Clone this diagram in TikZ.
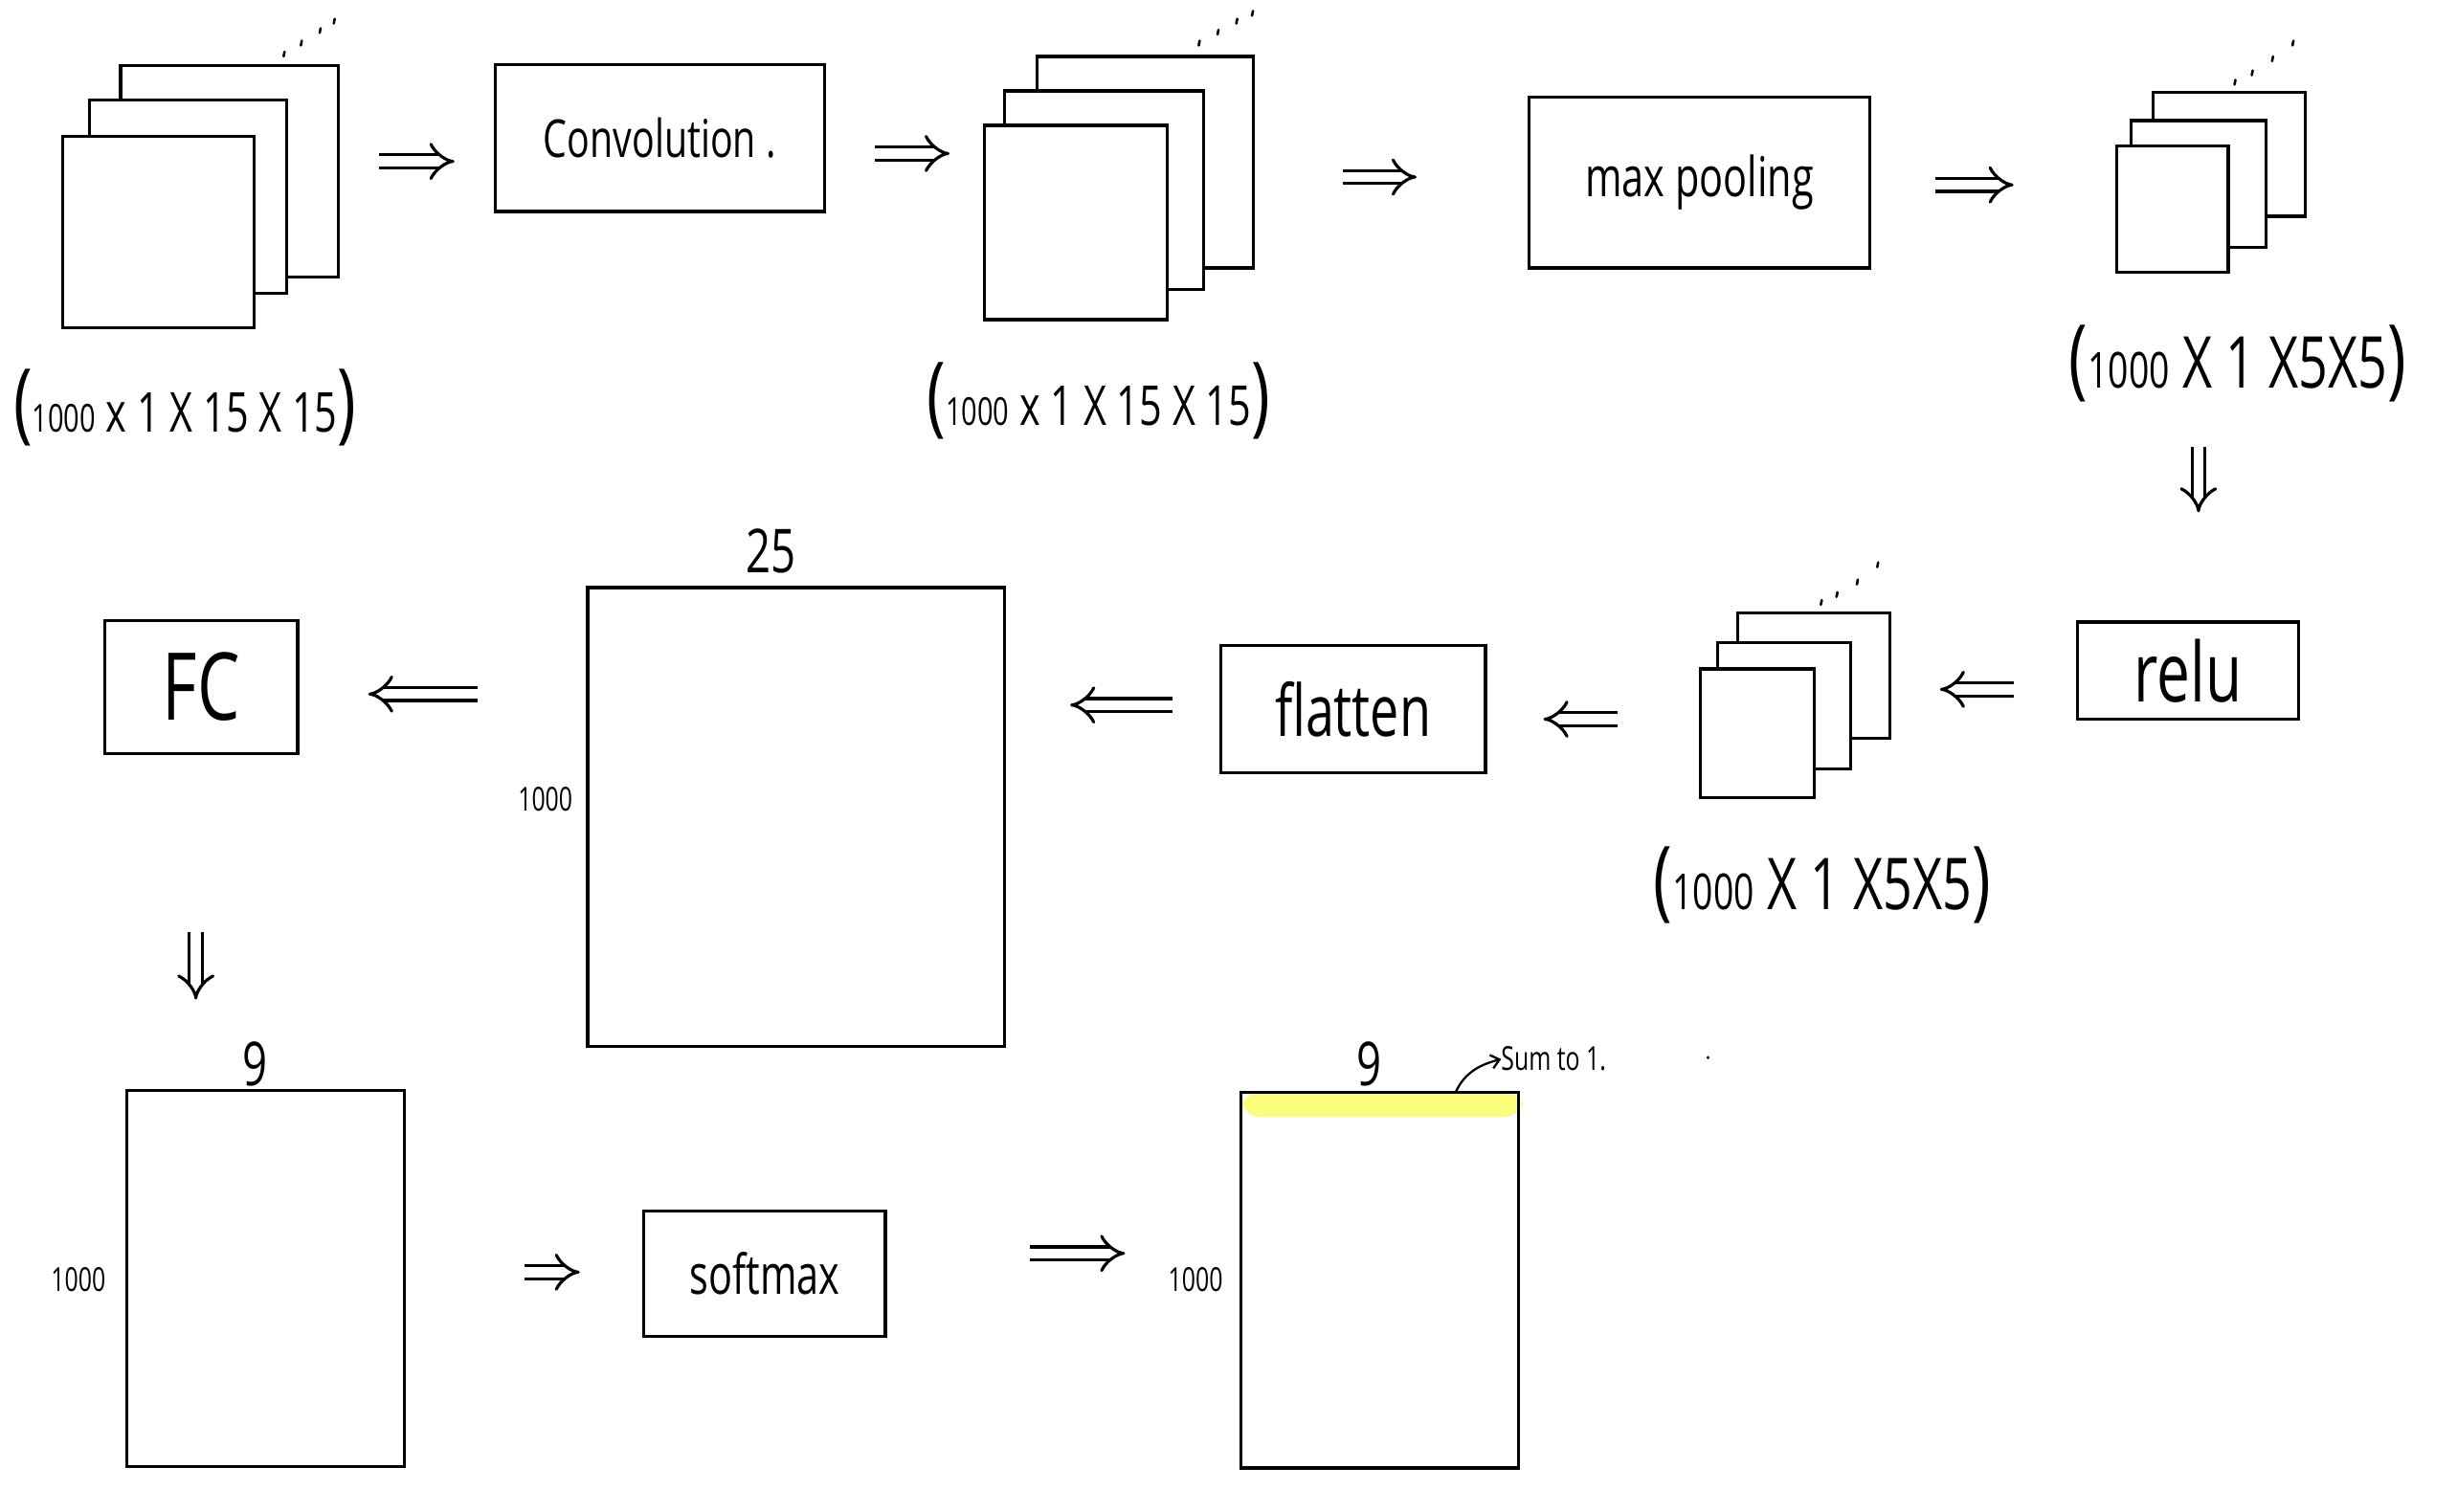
\documentclass[tikz,border=0pt]{standalone}
\usepackage{fontspec}
\setmainfont{Open Sans}[FakeStretch=0.72]
\usetikzlibrary{arrows.meta}
\definecolor{hl}{RGB}{253,253,125}
\tikzset{
  x=0.02cm, y=-0.02cm,
  ln/.style={line width=1.1pt, draw=black},
  sheet/.style={ln, fill=white, rectangle, inner sep=0pt, outer sep=0pt},
  opbox/.style={ln, rectangle, inner sep=0pt, outer sep=0pt},
  matbox/.style={ln, rectangle, inner sep=0pt, outer sep=0pt},
  lbl/.style={inner sep=0pt, outer sep=0pt},
  dbl/.style={double, double distance=3.6pt, line width=1.1pt,
              -{Implies[length=7pt, width=17pt]}},
  tickmk/.style={line width=0.9pt, line cap=round},
}
\newcommand\rectnode[7]{\node[#1, minimum width={(#5-#3)*0.02cm}, minimum height={(#6-#4)*0.02cm}] (#2) at ({(#3+#5)/2},{(#4+#6)/2}) {#7};}
\newcommand\bp[1]{{\fontsize{32}{32}\selectfont #1}}
\newcommand\sm[1]{{\fontsize{14}{14}\selectfont #1}}
\begin{document}
\begin{tikzpicture}
\useasboundingbox (0,0) rectangle (1568,965);
% ---------- row 1 ----------
% stack 1
\rectnode{sheet}{s1a}{77}{42}{216}{177}{}
\rectnode{sheet}{s1b}{57}{64}{183}{187}{}
\rectnode{sheet}{s1c}{40}{87}{162}{209}{}
\foreach \p in {(181,36),(192,29),(204,21),(213,15)} \draw[tickmk] \p -- ++(0.6,-3);
\node[lbl, font=\fontsize{20}{20}\selectfont] (l1) at (118,260) {\bp{(}\sm{1000} x 1 X 15 X 15\bp{)}};
% convolution
\rectnode{opbox}{conv}{316}{41}{526}{135}{\fontsize{19}{19}\selectfont Convolution .}
% stack 2
\rectnode{sheet}{s2a}{662}{36}{800}{171}{}
\rectnode{sheet}{s2b}{641}{58}{768}{185}{}
\rectnode{sheet}{s2c}{628}{80}{745}{204}{}
\foreach \p in {(765,29),(777,22),(789,15),(799,10)} \draw[tickmk] \p -- ++(0.6,-3);
\node[lbl, font=\fontsize{20}{20}\selectfont] (l2) at (701,256) {\bp{(}\sm{1000} x 1 X 15 X 15\bp{)}};
% max pooling
\rectnode{opbox}{pool}{976}{62}{1193}{171}{\fontsize{20}{20}\selectfont max pooling}
% stack 3
\rectnode{sheet}{s3a}{1374}{59}{1471}{138}{}
\rectnode{sheet}{s3b}{1360}{77}{1446}{158}{}
\rectnode{sheet}{s3c}{1351}{93}{1422}{174}{}
\foreach \p in {(1426,54),(1437,48),(1450,39),(1463,29)} \draw[tickmk] \p -- ++(0.6,-3);
\node[lbl, font=\fontsize{26}{26}\selectfont] (l3) at (1428,232) {\bp{(}{\fontsize{18}{18}\selectfont 1000} X 1 X5X5\bp{)}};
% ---------- row 2 ----------
\rectnode{opbox}{relu}{1326}{397}{1467}{459}{\fontsize{30}{30}\selectfont relu}
% stack 4
\rectnode{sheet}{s4a}{1109}{391}{1206}{471}{}
\rectnode{sheet}{s4b}{1096}{410}{1181}{491}{}
\rectnode{sheet}{s4c}{1085}{427}{1158}{509}{}
\foreach \p in {(1162,386),(1172,381),(1185,373),(1198,362)} \draw[tickmk] \p -- ++(0.6,-3);
\node[lbl, font=\fontsize{26}{26}\selectfont] (l4) at (1163,565) {\bp{(}{\fontsize{18}{18}\selectfont 1000} X 1 X5X5\bp{)}};
% flatten
\rectnode{opbox}{flat}{779}{412}{948}{493}{\fontsize{26}{26}\selectfont flatten}
% flattened matrix
\rectnode{matbox}{m25}{375}{375}{641}{668}{}
\node[lbl, font=\fontsize{22}{22}\selectfont] (t25) at (492,352) {25};
\node[lbl, font=\fontsize{12}{12}\selectfont] (t25h) at (348,510) {1000};
% FC
\rectnode{opbox}{fc}{67}{396}{190}{481}{\fontsize{34}{34}\selectfont FC}
% ---------- row 3 ----------
\rectnode{matbox}{m9}{81}{696}{258}{936}{}
\node[lbl, font=\fontsize{22}{22}\selectfont] (t9) at (163,679) {9};
\node[lbl, font=\fontsize{12}{12}\selectfont] (t9h) at (50,817) {1000};
\rectnode{opbox}{soft}{411}{773}{565}{853}{\fontsize{20}{20}\selectfont softmax}
\fill[hl, rounded corners=7pt] (792,697) rectangle (972,713);
\rectnode{matbox}{out}{792}{697}{969}{937}{}
\node[lbl, font=\fontsize{22}{22}\selectfont] (to9) at (874,679) {9};
\node[lbl, font=\fontsize{12}{12}\selectfont] (to9h) at (763,817) {1000};
\node[lbl, font=\fontsize{12}{12}\selectfont, anchor=west] (sum) at (958,676) {Sum to 1.};
\coordinate (sumS) at (929,697);
\draw[line width=0.8pt, -{Straight Barb[length=3pt,width=5pt]}] (sumS) to[out=65, in=195] (sum.west);
\fill (1090,675) circle (0.6pt);
% ---------- connectors ----------
\coordinate (a1s) at (242,103); \coordinate (a1e) at (290,103);
\coordinate (a2s) at (558,98);  \coordinate (a2e) at (606,98);
\coordinate (a3s) at (857,113); \coordinate (a3e) at (904,113);
\coordinate (a4s) at (1235,118); \coordinate (a4e) at (1285,118);
\coordinate (a5s) at (1403,285); \coordinate (a5e) at (1403,327);
\coordinate (a6s) at (1285,440); \coordinate (a6e) at (1238,440);
\coordinate (a7s) at (1032,459); \coordinate (a7e) at (985,459);
\coordinate (a8s) at (748,450);  \coordinate (a8e) at (683,450);
\coordinate (a9s) at (305,443);  \coordinate (a9e) at (235,443);
\coordinate (a10s) at (125,595); \coordinate (a10e) at (125,638);
\coordinate (a11s) at (335,812); \coordinate (a11e) at (370,812);
\coordinate (a12s) at (657,800); \coordinate (a12e) at (718,800);
\foreach \i in {1,...,12} \draw[dbl] (a\i s) -- (a\i e);
\end{tikzpicture}
\end{document}
